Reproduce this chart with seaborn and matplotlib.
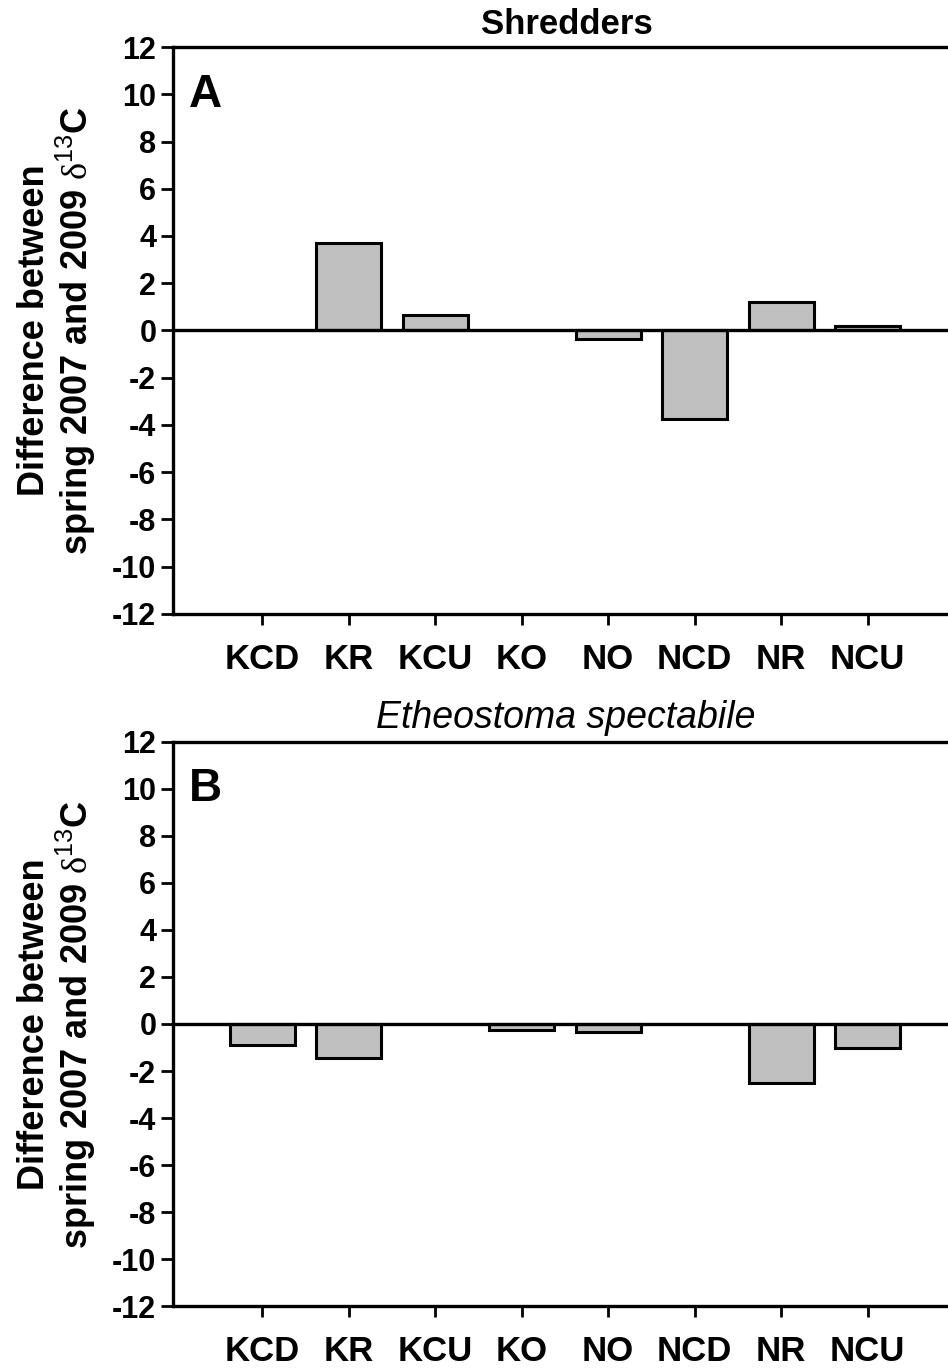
import numpy as np
import pandas as pd
import matplotlib
matplotlib.use("Agg")
import matplotlib.pyplot as plt
import seaborn as sns

# Sites along the two streams
sites = ["KCD", "KR", "KCU", "KO", "NO", "NCD", "NR", "NCU"]

# Difference between spring 2007 and 2009 d13C (NaN = not sampled)
shredders = [np.nan, 3.7, 0.65, np.nan, -0.35, -3.75, 1.2, 0.2]
etheostoma = [-0.9, -1.45, np.nan, -0.25, -0.35, np.nan, -2.5, -1.0]

y_ticks = list(range(-12, 13, 2))

sns.set_theme(style="white")
plt.rcParams["font.family"] = ["Liberation Sans", "DejaVu Sans"]
plt.rcParams["mathtext.fontset"] = "custom"
plt.rcParams["mathtext.rm"] = "Liberation Serif"
plt.rcParams["mathtext.sf"] = "Liberation Sans"
plt.rcParams["text.color"] = "black"
plt.rcParams["axes.labelcolor"] = "black"
plt.rcParams["xtick.color"] = "black"
plt.rcParams["ytick.color"] = "black"

fig = plt.figure(figsize=(9.48, 13.71), dpi=100)

ax_a = fig.add_axes([0.1825, 0.5522, 0.8175, 0.4135])
ax_b = fig.add_axes([0.1825, 0.0474, 0.8175, 0.4114])

ylabel = ("Difference between\n"
          r"spring 2007 and 2009 $\mathrm{\delta}^{\mathsf{13}}$C")


def draw_panel(ax, values, letter):
    df = pd.DataFrame({"site": sites, "diff": values}).dropna()
    sns.barplot(data=df, x="site", y="diff", order=sites, ax=ax,
                color="#c0c0c0", saturation=1, edgecolor="black",
                linewidth=2.2, width=0.75)
    ax.axhline(0, color="black", lw=2.4, zorder=5)
    ax.set_xlim(-1.03, 7.93)
    ax.set_ylim(-12, 12)
    ax.set_yticks(y_ticks)
    ax.set_yticklabels([str(t) for t in y_ticks], fontsize=22,
                       fontweight="bold")
    ax.set_xticks(range(len(sites)))
    ax.set_xticklabels(sites, fontsize=25, fontweight="bold")
    ax.tick_params(axis="y", direction="out", length=9, width=2, pad=3,
                   left=True)
    ax.tick_params(axis="x", direction="out", length=8, width=2, pad=13,
                   bottom=True)
    for side in ("left", "top", "bottom"):
        ax.spines[side].set_visible(True)
        ax.spines[side].set_linewidth(2.4)
        ax.spines[side].set_color("black")
    ax.spines["right"].set_visible(False)
    ax.set_xlabel("")
    ax.set_ylabel(ylabel, fontsize=26, fontweight="bold", labelpad=10,
                  linespacing=1.05)
    ax.text(0.02, 0.955, letter, transform=ax.transAxes, fontsize=33,
            fontweight="bold", va="top", ha="left")


draw_panel(ax_a, shredders, "A")
draw_panel(ax_b, etheostoma, "B")

fig.text(567 / 948, 1 - 24 / 1371, "Shredders", ha="center", va="center",
         fontsize=25, fontweight="bold")
fig.text(566 / 948, 1 - 718 / 1371, "Etheostoma spectabile", ha="center",
         va="center", fontsize=27, style="italic")

fig.savefig("out.png", dpi=100)
